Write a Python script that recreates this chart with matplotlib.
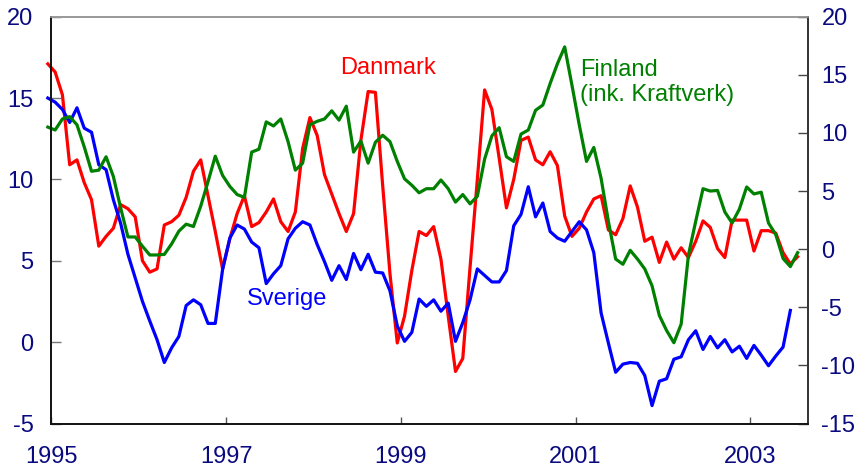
import numpy as np
import matplotlib
matplotlib.use("Agg")
import matplotlib.pyplot as plt

plt.rcParams["font.family"] = ["Liberation Sans", "DejaVu Sans"]
plt.rcParams["axes.unicode_minus"] = False

# monthly series, first value = January 1995
start_year = 1995

danmark = [
    17.1, 16.6, 15.2, 10.9, 11.2, 9.8, 8.75, 5.9, 6.5, 7.0, 8.45, 8.2,
    7.7, 5.0, 4.3, 4.5, 7.2, 7.4, 7.8, 8.9, 10.5, 11.2, 9.0, 6.8,
    4.5, 6.35, 7.9, 9.0, 7.1, 7.35, 8.0, 8.8, 7.4, 6.8, 8.0, 11.9,
    13.8, 12.7, 10.3, 9.1, 7.9, 6.8, 7.9, 12.4, 15.4, 15.35, 9.6, 4.2,
    -0.05, 1.6, 4.4, 6.8, 6.55, 7.1, 5.1, 1.6, -1.8, -1.0, 4.6, 10.0,
    15.5, 14.3, 11.3, 8.25, 10.0, 12.4, 12.6, 11.2, 10.9, 11.7, 10.85, 7.75,
    6.5, 7.0, 8.0, 8.8, 9.0, 6.9, 6.6, 7.6, 9.6, 8.3, 6.2, 6.45,
    4.9, 6.15, 5.1, 5.8, 5.2, 6.2, 7.45, 7.05, 5.75, 5.2, 7.5, 7.5,
    7.5, 5.6, 6.85, 6.85, 6.7, 5.5, 4.8, 5.25,
]

sverige = [
    15.0, 14.75, 14.3, 13.5, 14.4, 13.15, 12.9, 10.9, 10.6, 8.75, 7.3, 5.4,
    3.95, 2.5, 1.3, 0.15, -1.25, -0.35, 0.35, 2.25, 2.6, 2.3, 1.15, 1.15,
    4.45, 6.4, 7.2, 6.95, 6.15, 5.8, 3.6, 4.2, 4.7, 6.35, 7.0, 7.4,
    7.2, 6.0, 4.95, 3.8, 4.7, 3.85, 5.45, 4.45, 5.4, 4.3, 4.25, 3.15,
    1.0, 0.05, 0.6, 2.65, 2.2, 2.6, 1.9, 2.4, 0.05, 1.2, 2.6, 4.5,
    4.1, 3.7, 3.7, 4.4, 7.15, 7.85, 9.55, 7.7, 8.55, 6.8, 6.4, 6.2,
    6.8, 7.4, 6.9, 5.5, 1.8, -0.05, -1.85, -1.35, -1.25, -1.3, -2.05, -3.9,
    -2.4, -2.25, -1.05, -0.9, 0.15, 0.7, -0.45, 0.35, -0.35, 0.15, -0.6, -0.25,
    -1.0, -0.2, -0.8, -1.45, -0.85, -0.3, 1.95,
]

finland = [
    10.5, 10.25, 11.2, 11.4, 10.7, 8.8, 6.7, 6.8, 7.95, 6.25, 3.55, 1.05,
    1.05, 0.25, -0.5, -0.5, -0.45, 0.45, 1.55, 2.15, 1.95, 3.7, 5.8, 8.0,
    6.35, 5.4, 4.7, 4.45, 8.35, 8.6, 10.95, 10.6, 11.2, 9.25, 6.8, 7.4,
    10.7, 11.0, 11.2, 11.9, 11.1, 12.3, 8.35, 9.3, 7.4, 9.2, 9.8, 9.25,
    7.55, 6.05, 5.5, 4.85, 5.2, 5.2, 5.95, 5.2, 4.05, 4.7, 3.9, 4.55,
    7.75, 9.75, 10.45, 7.95, 7.55, 9.9, 10.25, 11.95, 12.4, 14.25, 15.95, 17.4,
    14.1, 10.7, 7.55, 8.75, 6.1, 2.4, -0.85, -1.3, -0.1, -0.85, -1.7, -3.15,
    -5.7, -7.0, -8.05, -6.45, -0.5, 2.4, 5.2, 5.0, 5.05, 3.2, 2.25, 3.45,
    5.35, 4.75, 4.9, 2.25, 1.25, -0.8, -1.5, -0.3,
]

year_ticks = [1995, 1997, 1999, 2001, 2003]
left_ticks = [-5, 0, 5, 10, 15, 20]
right_ticks = [-15, -10, -5, 0, 5, 10, 15, 20]


def months_to_x(values):
    # points sit at mid-month, shifted half a month back
    return start_year + (np.arange(len(values)) - 0.5) / 12


label_color = "#0a0a80"

fig = plt.figure(figsize=(8.61, 4.70), dpi=100)
ax = fig.add_axes([0.0598, 0.0989, 0.8781, 0.8656])
ax2 = ax.twinx()

ax.plot(months_to_x(danmark), danmark, color="#ff0000", lw=2.3, clip_on=False)
ax.plot(months_to_x(sverige), sverige, color="#0000ff", lw=2.3, clip_on=False)
ax2.plot(months_to_x(finland), finland, color="#008000", lw=2.3, clip_on=False)

ax.set_xlim(1995, 2003.655)
ax.set_ylim(-5, 20)
ax2.set_ylim(-15, 20)

ax.set_xticks(year_ticks)
ax.set_xticklabels([str(y) for y in year_ticks])
ax.set_yticks(left_ticks)
ax2.set_yticks(right_ticks)

ax.tick_params(axis="x", direction="in", length=5, width=1, color="#555555",
               pad=16, labelsize=17, labelcolor=label_color)
ax.tick_params(axis="y", direction="in", length=7, width=1, color="#777777",
               pad=13, labelsize=17, labelcolor=label_color)
ax2.tick_params(axis="y", direction="in", length=7, width=1, color="#444444",
                pad=10, labelsize=17, labelcolor=label_color)

for a in (ax, ax2):
    a.spines["left"].set_color("#111111")
    a.spines["bottom"].set_color("#111111")
    a.spines["right"].set_color("#333333")
    a.spines["top"].set_color("#999999")
    for s in a.spines.values():
        s.set_linewidth(1.2)

ax.text(1998.30, 16.86, "Danmark", color="#ff0000", fontsize=17,
        ha="left", va="center")
ax.text(1997.24, 2.68, "Sverige", color="#0000ff", fontsize=17,
        ha="left", va="center")
ax.text(2001.05, 15.97, "Finland\n(ink. Kraftverk)", color="#008000",
        fontsize=17, ha="left", va="center", linespacing=1.2)

fig.savefig("out.png", dpi=100)
